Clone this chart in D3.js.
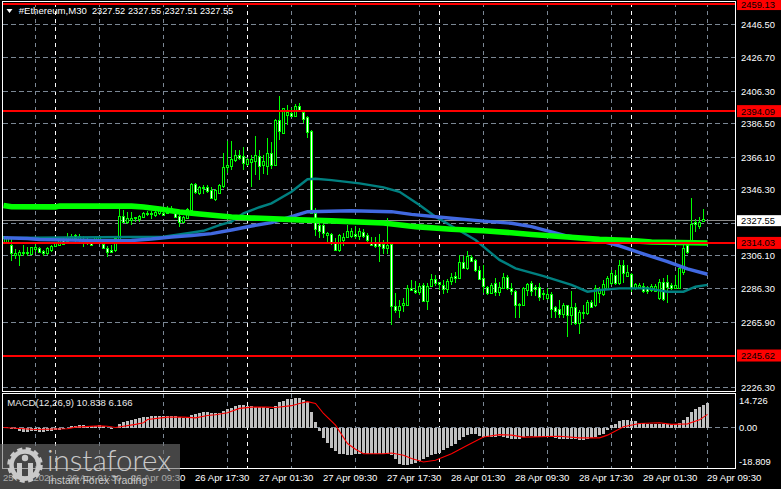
<!DOCTYPE html>
<html><head><meta charset="utf-8">
<script src="https://cdnjs.cloudflare.com/ajax/libs/d3/7.8.5/d3.min.js"></script>
<style>html,body{margin:0;padding:0;background:#000;overflow:hidden}svg{display:block}text{font-family:"Liberation Sans",Arial,sans-serif}</style>
</head><body><svg id="c" width="781" height="489"></svg>
<script>
const opens=[2314.6,2314.0,2312.8,2306.7,2306.7,2307.9,2307.9,2307.3,2310.3,2310.9,
2309.1,2307.9,2309.7,2312.2,2312.8,2315.8,2315.2,2315.8,2318.8,2315.8,
2315.8,2315.8,2314.0,2314.0,2315.2,2313.4,2310.9,2309.7,2309.7,2316.4,
2330.4,2326.7,2328.0,2329.2,2328.6,2329.8,2331.6,2332.2,2331.0,2332.2,
2332.2,2332.2,2332.8,2332.2,2330.4,2326.7,2329.2,2334.0,2349.8,2344.4,
2347.4,2348.0,2346.2,2340.7,2344.4,2348.6,2360.1,2360.8,2364.4,2367.4,
2366.8,2362.0,2363.2,2363.8,2366.8,2361.4,2360.8,2368.6,2361.4,2388.7,
2380.8,2391.7,2393.0,2391.1,2397.2,2393.6,2390.5,2382.0,2332.2,2324.9,
2324.9,2318.8,2319.4,2314.0,2309.7,2315.8,2317.6,2318.2,2319.4,2318.2,
2320.7,2318.8,2314.6,2314.0,2314.0,2313.4,2310.9,2313.4,2275.7,2273.3,
2276.3,2276.3,2286.6,2285.4,2284.2,2288.5,2278.7,2287.9,2292.1,2290.3,
2288.5,2286.0,2290.9,2293.9,2292.7,2302.4,2298.8,2305.5,2303.7,2297.6,
2292.7,2287.2,2283.6,2289.7,2284.2,2286.6,2293.3,2286.6,2284.8,2276.3,
2276.3,2285.4,2289.7,2287.2,2287.2,2283.6,2280.6,2283.0,2275.1,2273.9,
2270.8,2276.3,2270.2,2275.1,2265.4,2271.4,2271.4,2278.1,2276.3,2283.6,
2283.0,2286.0,2289.7,2294.5,2289.7,2300.6,2293.9,2295.2,2286.6,2287.2,
2287.9,2287.2,2285.4,2284.8,2280.6,2290.3,2290.3,2288.5,2286.6,2286.6,
2296.4,2312.8,2314.6,2326.7,2324.3,2327.4,2327.52];
const highs=[2318.2,2318.2,2317.0,2310.3,2309.7,2312.8,2311.5,2311.5,2313.4,2311.5,
2309.7,2311.5,2312.8,2314.6,2315.8,2317.0,2320.1,2319.4,2319.4,2319.4,
2318.2,2317.6,2316.4,2318.2,2318.2,2314.0,2312.2,2312.8,2318.2,2335.2,
2334.0,2332.8,2332.8,2329.8,2331.0,2332.8,2333.4,2333.4,2334.6,2335.8,
2334.0,2336.5,2336.5,2334.6,2332.2,2330.4,2335.2,2350.4,2350.4,2348.6,
2349.2,2349.2,2348.0,2346.8,2349.8,2368.6,2375.9,2375.9,2370.5,2370.5,
2372.3,2365.6,2367.4,2379.0,2370.5,2367.4,2377.8,2375.3,2389.3,2403.3,
2396.0,2397.8,2396.0,2398.4,2399.0,2394.8,2391.1,2382.6,2335.2,2326.7,
2325.5,2320.7,2320.1,2317.0,2319.4,2320.1,2324.9,2323.1,2324.3,2323.1,
2322.5,2320.1,2317.6,2317.6,2319.4,2315.8,2329.2,2314.0,2283.6,2279.4,
2280.6,2288.5,2291.5,2290.9,2289.7,2289.7,2289.7,2295.2,2294.5,2290.3,
2291.5,2292.1,2295.8,2296.4,2306.7,2306.1,2309.1,2306.7,2304.3,2300.0,
2300.6,2287.9,2289.7,2292.7,2290.3,2295.8,2294.5,2289.7,2285.4,2277.5,
2287.2,2289.7,2290.9,2288.5,2289.7,2285.4,2286.6,2284.2,2275.7,2279.4,
2277.5,2276.3,2284.8,2277.5,2273.3,2276.3,2279.4,2279.4,2288.5,2287.2,
2291.5,2293.9,2297.6,2297.6,2303.7,2303.7,2300.6,2295.8,2289.7,2289.7,
2289.7,2287.9,2289.1,2289.1,2292.1,2292.7,2294.5,2289.7,2294.5,2300.6,
2312.8,2314.0,2341.3,2328.6,2329.8,2334.6,2327.55];
const lows=[2314.0,2313.4,2303.0,2304.3,2300.0,2306.1,2306.1,2307.3,2308.5,2308.5,
2306.1,2306.7,2308.5,2311.5,2312.2,2312.8,2314.0,2315.2,2314.6,2314.6,
2311.5,2312.8,2312.2,2313.4,2314.0,2310.3,2305.5,2307.9,2308.5,2315.8,
2326.1,2325.5,2324.9,2326.7,2326.7,2329.2,2330.4,2328.6,2329.8,2331.0,
2330.4,2331.6,2332.2,2329.2,2323.7,2326.1,2328.6,2332.8,2343.7,2343.1,
2343.7,2344.4,2340.7,2339.5,2343.7,2347.4,2356.5,2358.3,2363.2,2364.4,
2358.3,2360.8,2348.0,2355.3,2352.3,2355.9,2355.3,2358.9,2360.8,2376.6,
2380.2,2385.7,2390.5,2390.5,2393.6,2386.9,2377.8,2332.2,2318.2,2317.0,
2317.0,2314.0,2312.8,2309.7,2308.5,2312.2,2317.0,2317.0,2316.4,2315.8,
2317.0,2314.0,2312.2,2310.9,2302.4,2307.3,2307.3,2264.2,2271.4,2268.4,
2272.1,2275.7,2284.8,2283.0,2282.4,2278.1,2273.3,2287.2,2287.9,2285.4,
2283.0,2283.6,2288.5,2289.7,2292.1,2298.2,2297.6,2302.4,2296.4,2291.5,
2283.6,2282.4,2283.0,2281.8,2281.8,2286.0,2285.4,2282.4,2268.4,2268.4,
2275.7,2281.8,2281.8,2281.8,2278.7,2279.4,2279.4,2268.4,2268.4,2268.4,
2268.4,2256.9,2264.2,2264.2,2258.7,2267.8,2270.2,2274.5,2275.1,2277.5,
2282.0,2285.4,2288.5,2288.5,2288.5,2289.7,2293.3,2284.2,2285.4,2286.6,
2283.6,2283.0,2284.2,2284.2,2279.4,2278.7,2277.5,2285.4,2286.0,2286.0,
2294.5,2307.3,2314.0,2320.7,2322.5,2326.7,2327.51];
const closes=[2317.0,2317.0,2307.9,2307.9,2308.5,2308.5,2308.5,2311.5,2311.5,2308.5,
2307.9,2310.9,2312.2,2314.0,2315.8,2313.4,2317.6,2318.2,2317.0,2318.2,
2314.6,2314.0,2312.8,2317.6,2317.6,2310.9,2308.5,2308.5,2317.0,2330.4,
2326.7,2329.2,2329.2,2329.8,2330.4,2332.2,2332.2,2331.6,2332.8,2334.0,
2331.0,2334.6,2335.2,2329.8,2326.7,2329.8,2334.6,2349.8,2345.0,2348.0,
2348.0,2345.6,2341.3,2346.2,2349.2,2360.1,2361.4,2365.0,2367.4,2365.6,
2362.6,2365.0,2365.0,2367.4,2360.8,2363.8,2368.6,2361.4,2388.7,2382.0,
2396.0,2393.6,2391.1,2397.2,2394.2,2389.3,2381.4,2332.2,2322.5,2321.3,
2320.1,2320.1,2314.0,2309.7,2318.8,2317.6,2321.3,2321.3,2318.2,2321.3,
2318.2,2315.8,2312.8,2312.2,2312.2,2310.9,2312.8,2275.7,2273.3,2275.7,
2277.5,2286.6,2285.4,2284.2,2287.9,2278.7,2287.9,2292.1,2289.7,2289.1,
2286.0,2290.9,2293.3,2292.7,2302.4,2298.8,2306.1,2303.0,2297.6,2292.1,
2287.9,2283.6,2288.5,2284.2,2287.2,2293.3,2286.6,2284.8,2276.3,2276.9,
2286.6,2289.1,2284.8,2286.0,2281.2,2283.0,2283.0,2273.9,2272.7,2270.8,
2276.3,2270.2,2275.1,2265.4,2272.1,2272.1,2278.1,2275.1,2286.6,2285.4,
2289.1,2292.7,2295.8,2289.7,2300.6,2295.8,2296.4,2286.6,2289.1,2288.5,
2284.8,2284.8,2287.9,2287.9,2290.3,2280.0,2287.2,2286.6,2288.5,2298.8,
2310.9,2308.5,2325.5,2325.5,2326.7,2328.6,2327.55];

// moving averages at the bar indexes listed
const limeBars=[0,2,13,14,32,35,39,44,49,57,62,74,82,95,103,112,120,127,132,141,149,157,162,176];
const limeVals=[2336.8,2336.0,2335.9,2336.4,2336.4,2335.8,2334.6,2332.8,2331.6,2329.8,2329.2,2328.0,2327.4,2326.1,2323.9,2322.3,2321.4,2320.2,2319.1,2317.6,2316.2,2315.4,2314.6,2314.0];
const blueBars=[0,6,9,24,32,37,42,47,52,57,62,67,72,76,87,97,102,112,120,127,132,141,149,154,159,166,171,176];
const blueVals=[2317.2,2316.7,2316.1,2315.4,2315.5,2316.4,2317.6,2318.5,2319.7,2321.9,2324.3,2326.4,2330.0,2333.0,2333.6,2333.0,2331.4,2329.0,2327.3,2326.0,2323.9,2318.2,2315.4,2312.2,2308.1,2302.6,2298.2,2295.0];
const tealBars=[0,40,46,50,54,57,60,64,67,72,76,78,82,89,95,99,104,108,113,118,122,124,128,135,142,146,149,154,161,166,170,173,176];
const tealVals=[2317.0,2317.8,2319.9,2321.4,2324.9,2326.9,2332.0,2335.7,2338.1,2345.1,2352.7,2353.0,2352.2,2350.2,2347.8,2345.1,2337.1,2330.0,2322.9,2315.8,2307.7,2303.7,2298.6,2293.9,2288.5,2284.4,2285.4,2286.4,2286.4,2284.4,2284.4,2287.4,2288.5];

const levels=[2459.13,2394.09,2314.03,2245.62];
const levelLabels=["2459.13","2394.09","2314.03","2245.62"];
const lastPrice=2327.55, lastPriceLabel="2327.55";
const priceTicks=[2446.5,2426.7,2406.3,2386.5,2366.1,2346.3,2306.1,2286.3,2265.9,2226.3];
const priceTickLabels=["2446.50","2426.70","2406.30","2386.50","2366.10","2346.30","2306.10","2286.30","2265.90","2226.30"];
const extraGridPrice=2326.1;

const macdHist=[-0.2,-0.4,-0.6,-0.9,-1.7,-2.2,-2.2,-2.0,-1.7,-2.2,
-2.4,-2.0,-1.7,-1.5,-1.1,-0.6,-0.2,0.6,0.9,1.3,
1.3,0.9,0.6,0.9,1.3,0.7,-0.4,-0.6,-0.2,1.7,
2.9,3.7,4.2,4.6,5.3,5.7,5.9,6.3,6.3,6.3,
6.1,6.1,6.3,6.3,5.9,5.3,5.2,6.6,7.2,7.9,
8.3,8.3,7.9,7.9,7.7,9.0,10.1,10.9,11.8,12.1,
12.3,12.0,11.6,11.4,11.2,11.0,10.9,10.1,12.0,13.8,
14.7,15.6,15.8,16.2,16.0,15.3,14.2,8.3,3.1,-1.8,
-5.7,-8.3,-11.0,-13.1,-14.4,-14.7,-15.1,-14.9,-14.7,-14.4,
-14.0,-14.4,-14.4,-14.4,-14.4,-14.4,-14.4,-14.9,-17.1,-20.1,
-20.8,-20.4,-19.9,-19.3,-18.6,-17.5,-16.2,-14.9,-14.4,-14.0,
-12.5,-11.2,-10.3,-8.8,-7.0,-5.2,-3.9,-3.3,-3.7,-4.6,
-5.3,-5.3,-5.2,-5.2,-4.6,-5.2,-5.7,-6.1,-6.4,-6.1,
-5.2,-4.8,-4.6,-5.2,-5.2,-5.3,-5.2,-5.2,-5.7,-6.4,
-6.4,-6.1,-6.1,-6.3,-7.0,-7.0,-6.1,-5.7,-5.2,-4.2,
-3.3,-1.5,1.1,2.0,3.5,4.0,4.0,3.7,3.5,2.6,
2.4,2.0,1.8,1.7,1.8,1.8,1.7,1.7,1.8,2.2,
4.0,5.7,8.3,10.1,11.4,12.3,13.6];
const signalBars=[0,8,16,18,24,26,28,33,35,36,41,45,48,51,53,56,59,62,66,68,72,74,76,78,80,83,86,88,90,95,97,100,102,105,108,112,116,120,124,127,130,139,144,149,151,155,159,164,167,171,174,176];
const signalVals=[0,-1.1,-0.7,0.2,0.9,0.7,0,1.7,2.6,4.4,5.7,5.7,5.3,6.6,7.0,8.1,10.5,11.2,11.2,11.0,12.0,13.2,14.2,13.2,7.7,1.3,-8.8,-12.0,-14.4,-14.4,-14.0,-15.3,-17.1,-19.0,-18.0,-14.4,-9.8,-5.2,-3.9,-4.2,-5.3,-4.8,-5.7,-5.7,-4.2,0.4,2.2,2.6,1.7,2.0,4.2,7.2];
const macdTicks=[14.726,0,-18.809];
const macdTickLabels=["14.726","0.00","-18.809"];

const gridBars=[8,24,40,56,72,88,104,120,136,152,168,176];
const dayBars=[13,61,109,157];
const timeBars=[0,16,32,48,64,80,96,112,128,144,160,176];
const timeLabels=["25 Apr 2021","26 Apr 01:30","26 Apr 09:30","26 Apr 17:30","27 Apr 01:30","27 Apr 09:30","27 Apr 17:30","28 Apr 01:30","28 Apr 09:30","28 Apr 17:30","29 Apr 01:30","29 Apr 09:30"];
const header=["#Ethereum,M30","2327.52","2327.55","2327.51","2327.55"];

const svg=d3.select("#c");
const x=d3.scaleLinear().domain([0,176]).range([3.5,707.5]);
const y=d3.scaleLinear().domain([2461.6,2226.6]).range([0,386.83]);
const my=d3.scaleLinear().domain([14.726,0,-18.809]).range([400.7,427.5,461.7]);
const LIME="#00ff00",GRID="#7b8794",RED="#ff0000";
const snap=v=>Math.round(v-.5)+.5;

const gridG=svg.append("g").attr("shape-rendering","crispEdges").attr("fill","none");
function vline(b,y0,y1,c){gridG.append("line").attr("x1",x(b)).attr("x2",x(b)).attr("y1",y0).attr("y2",y1).attr("stroke",c).attr("stroke-dasharray","4,4");}
function hline(v,c,dash){const l=gridG.append("line").attr("x1",3).attr("x2",735).attr("y1",snap(v)).attr("y2",snap(v)).attr("stroke",c);if(dash)l.attr("stroke-dasharray",dash);}
gridBars.forEach(b=>{vline(b,3,391,GRID);vline(b,394,468,GRID);});
dayBars.forEach(b=>{vline(b,3,391,"#ffffff");vline(b,394,468,"#ffffff");});
priceTicks.forEach(t=>hline(y(t),GRID,"5,3"));
hline(y(extraGridPrice),GRID,"5,3");
hline(my(0),GRID,"5,3");
hline(y(lastPrice),"#8a8a8a");

// candles
const cg=svg.append("g").attr("shape-rendering","crispEdges");
opens.forEach((o,i)=>{
  const c=closes[i],cx=x(i);
  cg.append("line").attr("x1",cx).attr("x2",cx).attr("y1",y(highs[i])).attr("y2",y(lows[i])).attr("stroke",LIME);
  const t=Math.round(y(Math.max(o,c))),b=Math.round(y(Math.min(o,c)));
  cg.append("rect").attr("x",cx-1).attr("width",2).attr("y",t+.5).attr("height",Math.max(b-t,0))
    .attr("fill",c>=o?"#000":"#fff").attr("stroke",LIME);
});

// moving averages
const ln=(bars,vals,sc)=>d3.line().x((d,i)=>x(bars[i])).y(d=>sc(d))(vals);
svg.append("path").attr("d",ln(tealBars,tealVals,y)).attr("fill","none").attr("stroke","#008080").attr("stroke-width",2.4);
svg.append("path").attr("d",ln(blueBars,blueVals,y)).attr("fill","none").attr("stroke","#4169e1").attr("stroke-width",3.4);
svg.append("path").attr("d",ln(limeBars,limeVals,y)).attr("fill","none").attr("stroke",LIME).attr("stroke-width",5.6);

// red levels
levels.forEach(l=>svg.append("line").attr("x1",3).attr("x2",735).attr("y1",y(l)).attr("y2",y(l)).attr("stroke",RED).attr("stroke-width",2).attr("shape-rendering","crispEdges"));

// MACD
const hg=svg.append("g").attr("shape-rendering","crispEdges");
macdHist.forEach((v,i)=>{
  const a=my(v),b=my(0);
  hg.append("rect").attr("x",x(i)-1.5).attr("width",3).attr("y",Math.min(a,b)).attr("height",Math.abs(a-b)).attr("fill","#c0c0c0");
});
svg.append("path").attr("d",ln(signalBars,signalVals,my)).attr("fill","none").attr("stroke",RED).attr("stroke-width",1.1);

// frames
const frame=svg.append("g").attr("shape-rendering","crispEdges").attr("fill","none").attr("stroke","#fff");
frame.append("rect").attr("x",2.5).attr("y",1.5).attr("width",733).attr("height",390);
frame.append("rect").attr("x",2.5).attr("y",393.5).attr("width",733).attr("height",75);

// axis text
const txt=(s,xx,yy,fill,size)=>svg.append("text").text(s).attr("x",xx).attr("y",yy).attr("fill",fill||"#fff").attr("font-size",size||9.4);
priceTicks.forEach((t,i)=>txt(priceTickLabels[i],741,y(t)+3.5));
levels.forEach((l,i)=>{
  svg.append("rect").attr("x",737).attr("y",y(l)-6).attr("width",44).attr("height",12).attr("fill",RED);
  txt(levelLabels[i],741,y(l)+3.5,"#000");
});
svg.append("rect").attr("x",737).attr("y",y(lastPrice)-5.5).attr("width",44).attr("height",11).attr("fill","#fff");
txt(lastPriceLabel,741,y(lastPrice)+3.5,"#000");
macdTicks.forEach((t,i)=>txt(macdTickLabels[i],739,my(t)+3.5));
timeBars.forEach((b,i)=>txt(timeLabels[i],x(b)-.5,481,"#fff",9.6));

// header
svg.append("path").attr("d",d3.line()([[6.5,9],[12.5,9],[9.5,13]])+"Z").attr("fill","#fff");
[18.7,92,128,164.5,200].forEach((xx,i)=>txt(header[i],xx,14,"#fff",i?9.2:9.6));
txt("MACD(12,26,9) 10.838 6.166",7.3,406,"#e8e8e8",9.6);

// watermark
const wm=svg.append("g");
wm.append("rect").attr("x",0).attr("y",444).attr("width",180).attr("height",45).attr("fill","#707070").attr("fill-opacity",.62);
const W="#c9c9c9";
wm.append("circle").attr("cx",25).attr("cy",465).attr("r",13.5).attr("fill","none").attr("stroke",W).attr("stroke-width",4.5);
wm.append("circle").attr("cx",25).attr("cy",465).attr("r",16).attr("fill","none").attr("stroke",W).attr("stroke-width",3.5).attr("stroke-dasharray","5,3.4");
wm.append("circle").attr("cx",25).attr("cy",458).attr("r",3.2).attr("fill",W);
wm.append("rect").attr("x",17).attr("y",463).attr("width",5).attr("height",14).attr("fill",W);
wm.append("rect").attr("x",28).attr("y",463).attr("width",5).attr("height",14).attr("fill",W);
wm.append("text").text("instaforex").attr("x",47).attr("y",471).attr("fill",W).attr("font-size",29.5).style("font-family","Lato,'Open Sans',sans-serif").style("font-weight",300);
wm.append("text").text("Instant Forex Trading").attr("x",48).attr("y",484).attr("fill",W).attr("font-size",10.5);
</script></body></html>
